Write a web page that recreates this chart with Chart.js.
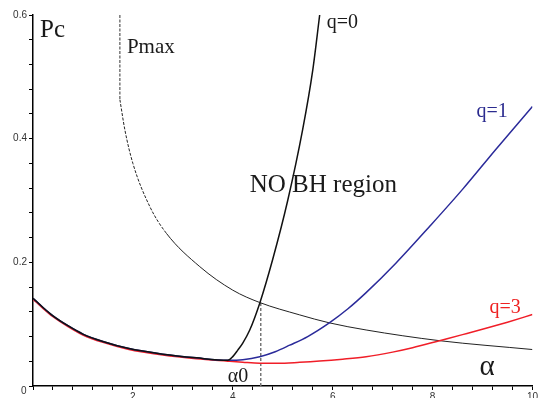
<!DOCTYPE html>
<html>
<head>
<meta charset="utf-8">
<script src="https://cdn.jsdelivr.net/npm/chart.js@4/dist/chart.umd.min.js"></script>
<style>
  html, body { margin: 0; padding: 0; overflow: hidden; background: #fff; }
  #wrap { width: 539px; height: 410px; position: relative; }
</style>
</head>
<body>
<div id="wrap"><canvas id="c"></canvas></div>
<script>
// Shared low branch (all q curves coincide here)
const commonX = [0, 0.2, 0.4, 0.7, 1.0, 1.4, 1.9, 2.6, 3.27, 3.9];
const commonY = [0.142, 0.127, 0.1135, 0.0975, 0.084, 0.072, 0.061, 0.0515, 0.0455, 0.0415];

// q = 0 rising branch
const q0X = [3.9, 4.0, 4.1, 4.2, 4.34, 4.54, 4.8, 5.1, 5.4, 5.6, 5.74];
const q0Y = [0.0415, 0.0475, 0.058, 0.0695, 0.0906, 0.134, 0.205, 0.3, 0.415, 0.51, 0.6];

// q = 1 branch
const q1X = [3.9, 4.2, 4.54, 4.85, 5.14, 5.5, 5.94, 6.3, 6.67, 7.27, 7.94, 8.6, 9.27, 10];
const q1Y = [0.0415, 0.0425, 0.0474, 0.0555, 0.066, 0.080, 0.1025, 0.1245, 0.151, 0.199, 0.258, 0.318, 0.383, 0.452];

// q = 3 curve (slightly below the others on the shared branch)
const q3X = [0, 0.2, 0.4, 0.7, 1.0, 1.4, 1.9, 2.6, 3.27, 3.9, 4.2, 4.54, 4.9, 5.34, 5.74, 6.2, 6.67, 7.2, 7.6, 8.14, 8.6, 9.07, 9.5, 10];
const q3Y = [0.1405, 0.1255, 0.112, 0.096, 0.0825, 0.0705, 0.0595, 0.050, 0.044, 0.0402, 0.0385, 0.0369, 0.0367, 0.0383, 0.0403, 0.0434, 0.0474, 0.0548, 0.0618, 0.0733, 0.0831, 0.0933, 0.1032, 0.1155];

// Pmax boundary: vertical part and curve
const pmaxVertX = [1.74, 1.74];
const pmaxVertY = [0.6, 0.463];
const pmaxX = [1.74, 1.84, 2.0, 2.34, 2.67, 3.34, 4.0, 4.54, 5.34, 5.94, 6.67, 8.14, 10];
const pmaxY = [0.463, 0.414, 0.36, 0.29, 0.247, 0.193, 0.155, 0.135, 0.115, 0.102, 0.0906, 0.0733, 0.059];
const pmaxDashUntil = 2.4;

// alpha0 marker
const alpha0 = 4.56;
const alpha0Top = 0.136;

// axis ranges and ticks
const xMin = 0, xMax = 10, xStep = 0.4, xLabelEvery = 2;
const yMin = 0, yMax = 0.6, yStep = 0.04, yLabelEvery = 0.2;

const zip = (xs, ys) => xs.map((x, i) => ({ x, y: ys[i] }));

const q0Data = zip(commonX, commonY).concat(zip(q0X, q0Y).slice(1));
const q1Data = zip(commonX, commonY).concat(zip(q1X, q1Y).slice(1));

const isMultiple = (v, step) => Math.abs(v / step - Math.round(v / step)) < 1e-6;

const annotations = [
  { text: 'Pc', x: 0.14, y: 0.564, size: 25, color: '#1a1a1a' },
  { text: 'Pmax', x: 1.88, y: 0.5386, size: 21, color: '#1a1a1a' },
  { text: 'q=0', x: 5.88, y: 0.579, size: 20, color: '#1a1a1a' },
  { text: 'NO BH region', x: 4.34, y: 0.314, size: 25, color: '#1a1a1a' },
  { text: 'q=1', x: 8.88, y: 0.435, size: 20, color: '#2b2b8f' },
  { text: 'q=3', x: 9.14, y: 0.118, size: 20, color: '#ee2222' },
  { text: 'α0', x: 3.9, y: 0.0065, size: 20, color: '#1a1a1a' },
  { text: 'α', x: 8.94, y: 0.0178, size: 29, color: '#1a1a1a' }
];

const textPlugin = {
  id: 'textLabels',
  afterDatasetsDraw(chart) {
    const { ctx, scales, chartArea } = chart;
    ctx.save();
    ctx.textAlign = 'left';
    ctx.textBaseline = 'alphabetic';
    annotations.forEach(a => {
      ctx.font = a.size + 'px "Liberation Serif", "Times New Roman", serif';
      ctx.fillStyle = a.color;
      ctx.fillText(a.text, scales.x.getPixelForValue(a.x), scales.y.getPixelForValue(a.y));
    });
    // shared origin label
    ctx.font = '10px "Liberation Sans", Arial, sans-serif';
    ctx.fillStyle = '#333';
    ctx.textAlign = 'center';
    ctx.textBaseline = 'middle';
    ctx.fillText('0', chartArea.left - 9.3, chartArea.bottom + 5.5);
    ctx.restore();
  }
};

const lineBase = { showLine: true, pointRadius: 0, pointHoverRadius: 0, fill: false, cubicInterpolationMode: 'monotone' };

new Chart(document.getElementById('c'), {
  type: 'scatter',
  data: {
    datasets: [
      Object.assign({}, lineBase, { label: 'q=0', data: q0Data, borderColor: '#111', borderWidth: 1.5 }),
      Object.assign({}, lineBase, { label: 'q=1', data: q1Data, borderColor: '#2b2b9a', borderWidth: 1.5 }),
      Object.assign({}, lineBase, { label: 'q=3', data: zip(q3X, q3Y), borderColor: '#f01e28', borderWidth: 1.5 }),
      Object.assign({}, lineBase, { label: 'Pmax', data: zip(pmaxX, pmaxY), borderColor: '#222', borderWidth: 1,
        segment: { borderDash: ctx => ctx.p0.parsed.x < pmaxDashUntil ? [3, 1.5] : undefined } }),
      Object.assign({}, lineBase, { label: 'Pmax vertical', data: zip(pmaxVertX, pmaxVertY), borderColor: '#333', borderWidth: 1,
        borderDash: [3, 1.5], cubicInterpolationMode: 'default', tension: 0 }),
      Object.assign({}, lineBase, { label: 'alpha0', data: [{ x: alpha0, y: 0 }, { x: alpha0, y: alpha0Top }],
        borderColor: '#777', borderWidth: 1.5, borderDash: [3, 2], cubicInterpolationMode: 'default', tension: 0 })
    ]
  },
  options: {
    responsive: true,
    maintainAspectRatio: false,
    animation: false,
    events: [],
    layout: { padding: { top: 15, right: 6, left: 0, bottom: 0 } },
    plugins: { legend: { display: false }, tooltip: { enabled: false } },
    scales: {
      x: {
        type: 'linear', min: xMin, max: xMax,
        afterFit: s => { s.height = 24; },
        border: { display: true, color: '#000', width: 1.5 },
        grid: { drawOnChartArea: false, drawTicks: true, tickLength: 4, color: '#000', tickWidth: 1 },
        ticks: {
          stepSize: xStep, autoSkip: false, maxRotation: 0, padding: 1,
          color: '#333', font: { family: '"Liberation Sans", Arial, sans-serif', size: 10 },
          callback: v => (v > 0 && isMultiple(v, xLabelEvery)) ? String(Math.round(v)) : ''
        }
      },
      y: {
        type: 'linear', min: yMin, max: yMax,
        afterFit: s => { s.width = 33; },
        border: { display: true, color: '#000', width: 1.5 },
        grid: { drawOnChartArea: false, drawTicks: true, tickLength: 4, color: '#000', tickWidth: 1 },
        ticks: {
          stepSize: yStep, autoSkip: false, padding: 2,
          color: '#333', font: { family: '"Liberation Sans", Arial, sans-serif', size: 10 },
          callback: v => (v > 0 && isMultiple(v, yLabelEvery)) ? v.toFixed(1) : ''
        }
      }
    }
  },
  plugins: [textPlugin]
});
</script>
</body>
</html>
